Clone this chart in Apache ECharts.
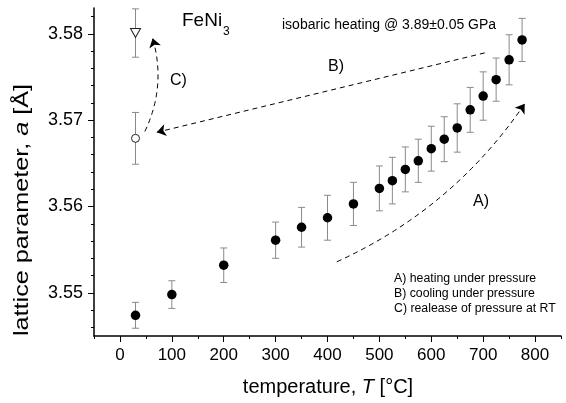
<!DOCTYPE html>
<html><head><meta charset="utf-8">
<script src="https://cdn.jsdelivr.net/npm/echarts@6/dist/echarts.min.js"></script>
<style>html,body{margin:0;padding:0;background:#fff}#c{width:566px;height:403px}</style>
</head><body><div id="c"></div>
<script>
// ---- data ----
const temperatures = [30, 100, 200, 300, 350, 400, 450, 500, 525, 550, 575, 600, 625, 650, 675, 700, 725, 750, 775];
const latticeHeating = [3.5474, 3.5498, 3.5532, 3.5561, 3.5576, 3.5587, 3.5603, 3.5621, 3.5630, 3.5643, 3.5653, 3.5667, 3.5678, 3.5691, 3.5712, 3.5728, 3.5747, 3.5770, 3.5793];
const errHeating = [0.0015, 0.0016, 0.0020, 0.0021, 0.0023, 0.0026, 0.0025, 0.0026, 0.0027, 0.0026, 0.0025, 0.0026, 0.0026, 0.0028, 0.0026, 0.0028, 0.0025, 0.0029, 0.0025];
const releasedT = [30];
const releasedA = [3.5679];
const releasedErr = [0.0030];
const underPressureRT_T = [30];
const underPressureRT_A = [3.5801];
const underPressureRT_Err = [0.0028];
// annotation arrows (data coordinates): A heating, B cooling, C release
const arrowA = [[418, 3.5536], [780, 3.5719]];
const arrowB = [[703, 3.5778], [71, 3.5686]];
const arrowC = [[48, 3.5687], [63, 3.5795]];
const xRange = [-50, 850];
const yRange = [3.545, 3.583];
const xMajorRange = [0, 800];
const yMajorRange = [3.55, 3.58];
const yMinorRange = [3.546, 3.582];
const legendLines = ['A) heating under pressure', 'B) cooling under pressure', 'C) realease of pressure at RT'];

// ---- layout ----
const FONT = "'Liberation Sans', Arial, Helvetica, sans-serif";
const W = 566, H = 403;
const G = {left: 94, right: 5, top: 8, bottom: 67};
const pw = W - G.left - G.right, ph = H - G.top - G.bottom;
const kx = pw / (xRange[1] - xRange[0]);
const ky = ph / (yRange[1] - yRange[0]);

function subGridY(r) {
  return {left: G.left, right: G.right, top: G.top + (yRange[1] - r[1]) * ky, bottom: G.bottom + (r[0] - yRange[0]) * ky, outerBoundsMode: 'none'};
}
function subGridX(r) {
  return {left: G.left + (r[0] - xRange[0]) * kx, right: G.right + (xRange[1] - r[1]) * kx, top: G.top, bottom: G.bottom, outerBoundsMode: 'none'};
}

const errData = temperatures.map((t, i) => [t, latticeHeating[i], errHeating[i]])
  .concat(releasedT.map((t, i) => [t, releasedA[i], releasedErr[i]]))
  .concat(underPressureRT_T.map((t, i) => [t, underPressureRT_A[i], underPressureRT_Err[i]]));

const chart = echarts.init(document.getElementById('c'), null, {renderer: 'canvas'});
const hiddenX = (gi, r) => ({gridIndex: gi, type: 'value', show: false, min: r[0], max: r[1]});
const hiddenY = (gi, r) => ({gridIndex: gi, type: 'value', show: false, min: r[0], max: r[1]});

const option = {
  animation: false,
  backgroundColor: '#fff',
  grid: [
    {left: G.left, right: G.right, top: G.top, bottom: G.bottom, outerBoundsMode: 'none'},
    subGridY(yMinorRange),
    subGridY(yMajorRange),
    subGridX(xMajorRange)
  ],
  xAxis: [
    {gridIndex: 0, type: 'value', min: xRange[0], max: xRange[1], interval: 50,
     axisLine: {show: true, onZero: false, lineStyle: {color: '#000', width: 1.5}},
     axisTick: {show: true, length: 3, lineStyle: {color: '#000', width: 1}},
     axisLabel: {show: false}, splitLine: {show: false}},
    hiddenX(1, xRange),
    hiddenX(2, xRange),
    {gridIndex: 3, type: 'value', min: xMajorRange[0], max: xMajorRange[1], interval: 100,
     axisLine: {show: false, onZero: false},
     axisTick: {show: true, length: 6, lineStyle: {color: '#000', width: 1}},
     axisLabel: {show: true, margin: 11, color: '#000', fontSize: 17, fontFamily: FONT},
     splitLine: {show: false}}
  ],
  yAxis: [
    {gridIndex: 0, type: 'value', min: yRange[0], max: yRange[1],
     axisLine: {show: true, onZero: false, lineStyle: {color: '#000', width: 1.5}},
     axisTick: {show: false}, axisLabel: {show: false}, splitLine: {show: false}},
    {gridIndex: 1, type: 'value', min: yMinorRange[0], max: yMinorRange[1], interval: 0.002,
     axisLine: {show: false, onZero: false},
     axisTick: {show: true, length: 3, lineStyle: {color: '#000', width: 1}},
     axisLabel: {show: false}, splitLine: {show: false}},
    {gridIndex: 2, type: 'value', min: yMajorRange[0], max: yMajorRange[1], interval: 0.01,
     axisLine: {show: false, onZero: false},
     axisTick: {show: true, length: 6, lineStyle: {color: '#000', width: 1}},
     axisLabel: {show: true, margin: 11, color: '#000', fontSize: 18, fontFamily: FONT,
                 formatter: v => v.toFixed(2)},
     splitLine: {show: false}},
    hiddenY(3, yRange)
  ],
  series: [
    {
      type: 'custom', xAxisIndex: 0, yAxisIndex: 0, z: 1,
      data: errData,
      encode: {x: 0, y: 1},
      renderItem: function (params, api) {
        const x = api.value(0), y = api.value(1), e = api.value(2);
        const top = api.coord([x, y + e]);
        const bot = api.coord([x, y - e]);
        const hw = 3.5;
        const st = {stroke: '#8a8a8a', lineWidth: 1};
        return {type: 'group', children: [
          {type: 'line', shape: {x1: top[0], y1: top[1], x2: bot[0], y2: bot[1]}, style: st},
          {type: 'line', shape: {x1: top[0] - hw, y1: top[1], x2: top[0] + hw, y2: top[1]}, style: st},
          {type: 'line', shape: {x1: bot[0] - hw, y1: bot[1], x2: bot[0] + hw, y2: bot[1]}, style: st}
        ]};
      }
    },
    {
      type: 'scatter', xAxisIndex: 0, yAxisIndex: 0, z: 3,
      symbol: 'circle', symbolSize: 9.5,
      itemStyle: {color: '#000', opacity: 1},
      data: temperatures.map((t, i) => [t, latticeHeating[i]])
    },
    {
      type: 'scatter', xAxisIndex: 0, yAxisIndex: 0, z: 3,
      symbol: 'circle', symbolSize: 8,
      itemStyle: {color: '#fff', borderColor: '#222', borderWidth: 1, opacity: 1},
      data: releasedT.map((t, i) => [t, releasedA[i]])
    },
    {
      type: 'scatter', xAxisIndex: 0, yAxisIndex: 0, z: 3,
      symbol: 'triangle', symbolRotate: 180, symbolSize: [10, 9],
      itemStyle: {color: '#fff', borderColor: '#222', borderWidth: 1, opacity: 1},
      data: underPressureRT_T.map((t, i) => [t, underPressureRT_A[i]])
    },
    {
      type: 'lines', coordinateSystem: 'cartesian2d', xAxisIndex: 0, yAxisIndex: 0, z: 2,
      symbol: ['none', 'arrow'], symbolSize: 9,
      lineStyle: {color: '#000', width: 1, type: [5, 4], opacity: 1},
      itemStyle: {color: '#000'},
      data: [
        {coords: arrowA, lineStyle: {curveness: -0.14}},
        {coords: arrowB, lineStyle: {curveness: 0}},
        {coords: arrowC, lineStyle: {curveness: -0.19}}
      ]
    }
  ],
  graphic: [
    {type: 'text', x: 182, y: 30, style: {text: 'FeNi', font: '19px ' + FONT, fill: '#000', align: 'left', verticalAlign: 'bottom'}},
    {type: 'text', x: 223, y: 38, style: {text: '3', font: '12px ' + FONT, fill: '#000', align: 'left', verticalAlign: 'bottom'}},
    {type: 'text', x: 282, y: 25, style: {text: 'isobaric heating @ 3.89±0.05 GPa', font: '14px ' + FONT, fill: '#000', align: 'left', verticalAlign: 'middle'}},
    {type: 'text', x: 170, y: 81, style: {text: 'C)', font: '16px ' + FONT, fill: '#000', align: 'left', verticalAlign: 'middle'}},
    {type: 'text', x: 328, y: 67, style: {text: 'B)', font: '16px ' + FONT, fill: '#000', align: 'left', verticalAlign: 'middle'}},
    {type: 'text', x: 473, y: 202, style: {text: 'A)', font: '16px ' + FONT, fill: '#000', align: 'left', verticalAlign: 'middle'}},
    {type: 'text', x: 394, y: 294, style: {text: legendLines.join('\n'), font: '12.3px ' + FONT, lineHeight: 15, fill: '#000', align: 'left', verticalAlign: 'middle'}},
    {type: 'text', x: 22, y: 210, rotation: Math.PI / 2, scaleX: 1.2, scaleY: 1,
     style: {text: '{n|lattice parameter, }{i|a}{n| [Å]}', align: 'center', verticalAlign: 'middle',
             rich: {n: {fontSize: 21, fontFamily: FONT, fill: '#000'}, i: {fontSize: 21, fontFamily: FONT, fontStyle: 'italic', fill: '#000'}}}},
    {type: 'text', x: 328, y: 387,
     style: {text: '{n|temperature, }{i|T}{n| [°C]}', align: 'center', verticalAlign: 'middle',
             rich: {n: {fontSize: 20, fontFamily: FONT, fill: '#000'}, i: {fontSize: 20, fontFamily: FONT, fontStyle: 'italic', fill: '#000'}}}}
  ]
};
chart.setOption(option);
</script>
</body></html>
